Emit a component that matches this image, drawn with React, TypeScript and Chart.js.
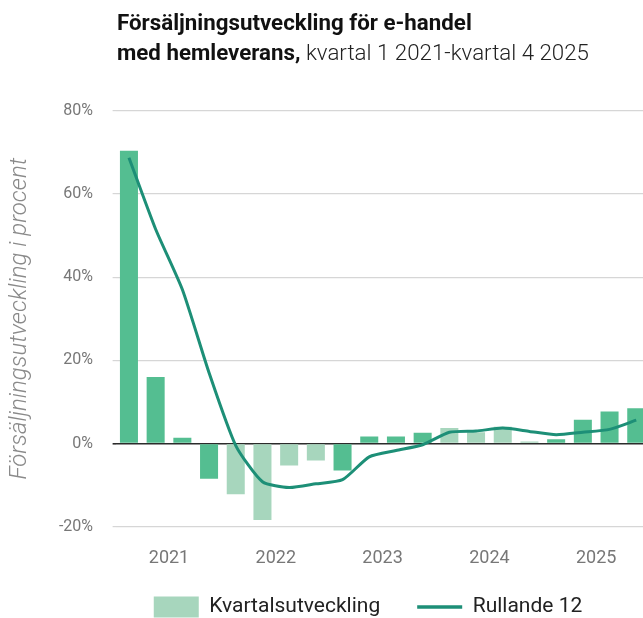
import React, { useEffect, useRef } from "react";
import { Chart, registerables } from "chart.js";

Chart.register(...registerables);

const quarters = [
  "2021 K1", "2021 K2", "2021 K3", "2021 K4",
  "2022 K1", "2022 K2", "2022 K3", "2022 K4",
  "2023 K1", "2023 K2", "2023 K3", "2023 K4",
  "2024 K1", "2024 K2", "2024 K3", "2024 K4",
  "2025 K1", "2025 K2", "2025 K3", "2025 K4",
];
const years = ["2021", "2022", "2023", "2024", "2025"];
const quarterlyGrowth = [
  70.4, 16.0, 1.4, -8.5,
  -12.2, -18.4, -5.3, -4.1,
  -6.5, 1.7, 1.7, 2.6,
  3.7, 2.7, 4.0, 0.5,
  1.0, 5.7, 7.7, 8.5,
];
const rolling12 = [
  68.7, 51.5, 37.0, 17.0,
  -0.5, -9.2, -10.6, -9.7,
  -8.7, -3.2, -1.7, -0.3,
  2.7, 3.0, 3.7, 2.9,
  2.1, 2.7, 3.4, 5.6,
];
const yTicks = [-20, 0, 20, 40, 60, 80];

const DARK = "#54be91";
const LIGHT = "#a7d6bd";
const LINE = "#1d8f77";

export default function App() {
  const ref = useRef<HTMLCanvasElement | null>(null);

  useEffect(() => {
    if (!ref.current) return;
    const barColors = quarters.map((q) => {
      const yi = years.indexOf(q.slice(0, 4));
      return yi % 2 === 0 ? DARK : LIGHT;
    });
    const chart = new Chart(ref.current, {
      data: {
        labels: quarters,
        datasets: [
          {
            type: "bar",
            label: "Kvartalsutveckling",
            data: quarterlyGrowth,
            backgroundColor: barColors,
            borderWidth: 0,
            categoryPercentage: 1,
            barPercentage: 0.675,
            order: 1,
            xAxisID: "x",
            yAxisID: "y",
          },
          {
            type: "line",
            label: "Rullande 12",
            data: rolling12,
            borderColor: LINE,
            borderWidth: 3,
            pointRadius: 0,
            tension: 0.2,
            fill: false,
            order: 0,
            xAxisID: "x",
            yAxisID: "y",
          },
        ],
      },
      options: {
        responsive: false,
        animation: false,
        layout: { padding: { top: 110.7, left: 0, right: 0, bottom: 2.5 } },
        plugins: {
          title: { display: false },
          tooltip: { enabled: false },
          legend: {
            position: "bottom",
            align: "center",
            title: {
              display: true,
              text: "",
              font: { size: 1 },
              padding: { top: -11.7, bottom: 0 },
            },
            labels: {
              usePointStyle: true,
              pointStyleWidth: 45,
              boxHeight: 21,
              padding: 37,
              color: "#222",
              font: { family: "Roboto", size: 21 },
              generateLabels: () => [
                {
                  text: "Kvartalsutveckling",
                  fillStyle: LIGHT,
                  strokeStyle: LIGHT,
                  lineWidth: 0,
                  pointStyle: "rect",
                  hidden: false,
                  datasetIndex: 0,
                  fontColor: "#222",
                },
                {
                  text: "Rullande 12",
                  fillStyle: LINE,
                  strokeStyle: LINE,
                  lineWidth: 3.5,
                  pointStyle: "line",
                  hidden: false,
                  datasetIndex: 1,
                  fontColor: "#222",
                },
              ],
            },
          },
        },
        scales: {
          x: {
            type: "category",
            display: false,
            offset: true,
          },
          x2: {
            type: "category",
            labels: years,
            position: "bottom",
            offset: true,
            grid: { display: false, drawTicks: false },
            border: { display: false },
            ticks: {
              color: "#777",
              padding: 21,
              font: { family: "Roboto", size: 18 },
              maxRotation: 0,
            },
            afterFit: (s: any) => {
              s.height = 43.3;
            },
          },
          y: {
            type: "linear",
            position: "left",
            min: -20,
            max: 80,
            afterBuildTicks: (s: any) => {
              s.ticks = yTicks.map((v) => ({ value: v }));
            },
            ticks: {
              color: "#777",
              padding: 19.6,
              font: { family: "Roboto", size: 16 },
              callback: (v: any) => v + "%",
            },
            grid: {
              color: (c: any) => (c.tick && c.tick.value === 0 ? "#2b2b2b" : "#d6d6d6"),
              lineWidth: (c: any) => (c.tick && c.tick.value === 0 ? 1.6 : 1.2),
              drawTicks: true,
              tickLength: 3,
            },
            border: { display: false },
            title: {
              display: true,
              text: "Försäljningsutveckling i procent",
              color: "#8a8a8a",
              font: { family: "Roboto", size: 24, style: "italic", weight: "300" },
              padding: { top: 6, bottom: 0 },
            },
            afterFit: (s: any) => {
              s.width = 115.6;
            },
          },
          yDummy: {
            type: "linear",
            position: "right",
            display: true,
            grid: { display: false, drawTicks: false },
            border: { display: false },
            ticks: { display: false },
            afterFit: (s: any) => {
              s.width = 86.4;
            },
          },
        },
      },
    } as any);
    return () => chart.destroy();
  }, []);

  return (
    <div
      style={{
        position: "fixed",
        left: 0,
        top: 0,
        width: 643,
        height: 618,
        overflow: "hidden",
        background: "#fff",
      }}
    >
      <canvas
        ref={ref}
        width={736}
        height={630}
        style={{ position: "absolute", left: 0, top: 0, width: 736, height: 630 }}
      />
      <div
        style={{
          position: "absolute",
          left: 117,
          top: 7,
          fontFamily: "Roboto",
          fontSize: 22.3,
          lineHeight: "30px",
          color: "#111",
          whiteSpace: "nowrap",
        }}
      >
        <div style={{ fontWeight: 700 }}>Försäljningsutveckling för e-handel</div>
        <div>
          <span style={{ fontWeight: 700 }}>med hemleverans,</span>
          <span style={{ fontWeight: 300, color: "#222" }}> kvartal 1 2021-kvartal 4 2025</span>
        </div>
      </div>
    </div>
  );
}
